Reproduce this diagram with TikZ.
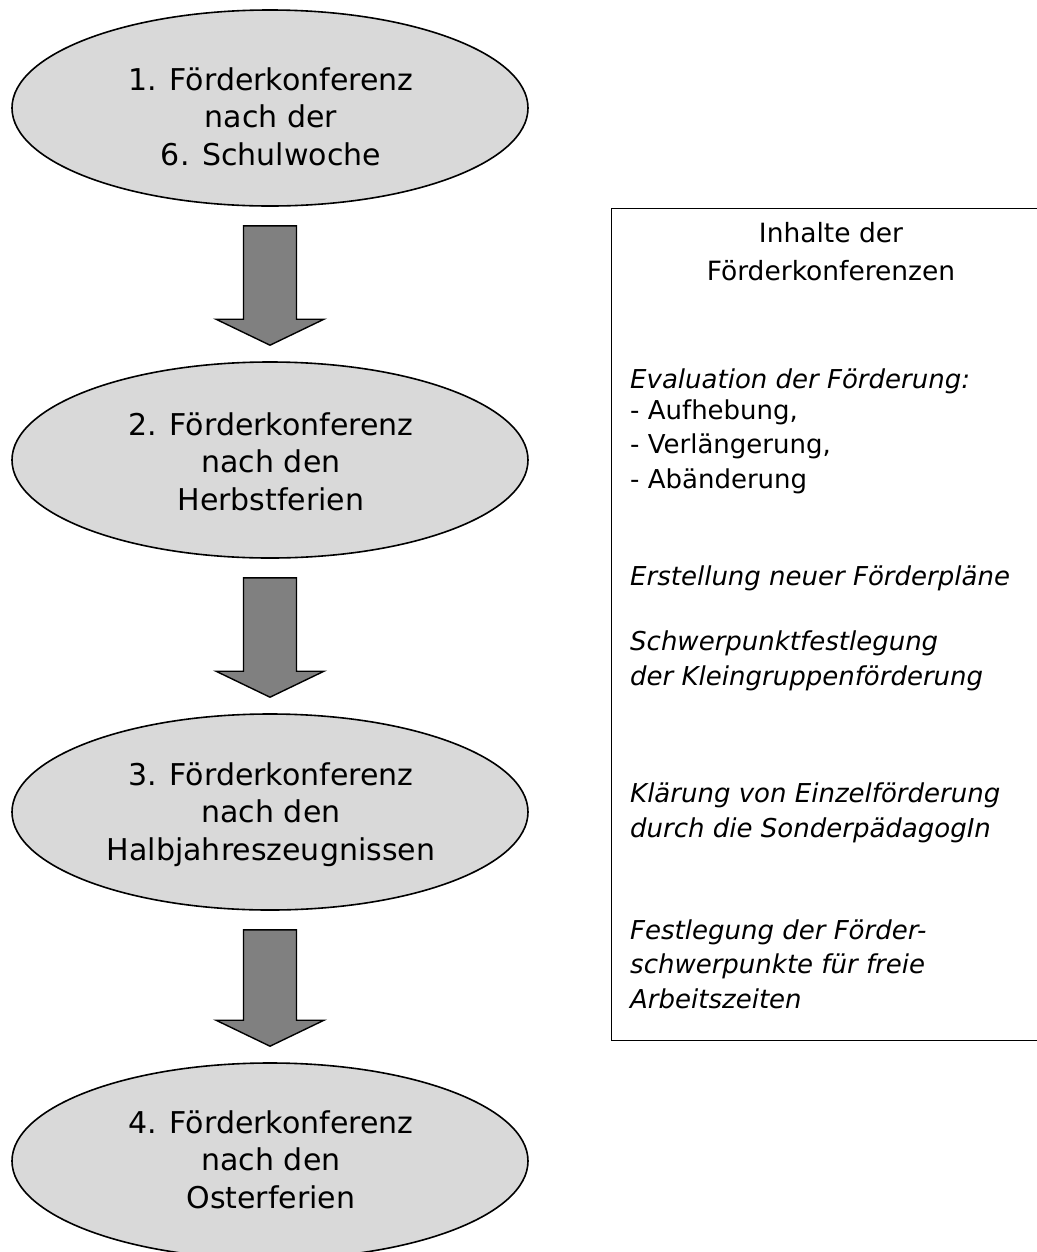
\documentclass[tikz,border=0pt]{standalone}
\usepackage{fontspec}
\setmainfont{DejaVu Sans}
\usetikzlibrary{shapes.geometric,calc}
\definecolor{ellfill}{RGB}{217,217,217}
\definecolor{arrfill}{RGB}{128,128,128}
\tikzset{
  conf/.style={ellipse, draw=black, line width=1.6bp, fill=ellfill, minimum width=516bp, minimum height=196bp, inner sep=0pt},
  conftext/.style={anchor=base, align=center, font=\fontsize{30bp}{37.5bp}\selectfont, inner sep=0pt},
  blockarrow/.style={draw=black, line width=1.4bp, fill=arrfill, line join=miter},
  infobox/.style={rectangle, draw=black, line width=1.4bp, anchor=north west, minimum width=440bp, minimum height=832bp, inner sep=0pt},
  boxtitle/.style={anchor=base, align=center, font=\fontsize{26.5bp}{38bp}\selectfont, inner sep=0pt},
  boxtext/.style={anchor=base west, align=left, font=\fontsize{26bp}{34.5bp}\selectfont\itshape, inner sep=0pt},
  boxlist/.style={anchor=base west, align=left, font=\fontsize{26bp}{34.5bp}\selectfont, inner sep=0pt}
}
\begin{document}
\begin{tikzpicture}[x=1bp, y=-1bp]
\useasboundingbox (0,0) rectangle (1037,1252);
\clip (0,0) rectangle (1037,1252);

% ellipses
\node[conf] (e1) at (270,108) {};
\node[conf] (e2) at (270,460) {};
\node[conf] (e3) at (270,812) {};
\node[conf] (e4) at (270,1161) {};

% anchor base = baseline of the last line
\node[conftext] (t1) at (271,165) {1. Förderkonferenz\\nach der\\6. Schulwoche};
\node[conftext] (t2) at (271,510) {2. Förderkonferenz\\nach den\\Herbstferien};
\node[conftext] (t3) at (271,860) {3. Förderkonferenz\\nach den\\Halbjahreszeugnissen};
\node[conftext] (t4) at (271,1208) {4. Förderkonferenz\\nach den\\Osterferien};

% block arrows between ellipses
\foreach \a/\b in {e1/e2, e2/e3, e3/e4} {
  \coordinate (top-\a) at ($(\a.south)+(0,19)$);
  \coordinate (tip-\a) at ($(\b.north)+(0,-16)$);
  \draw[blockarrow] ($(top-\a)+(-26.5,0)$) -- ($(top-\a)+(26.5,0)$)
     -- ($(tip-\a)+(26.5,-26)$) -- ($(tip-\a)+(54,-26)$) -- (tip-\a)
     -- ($(tip-\a)+(-54,-26)$) -- ($(tip-\a)+(-26.5,-26)$) -- cycle;
}

% info box
\node[infobox] (box) at (611,208) {};
\node[boxtitle] (title) at (831,280) {Inhalte der\\Förderkonferenzen};
\node[boxtext] (eval) at (630,388) {Evaluation der Förderung:};
\node[boxlist] (list) at (630,488) {- Aufhebung,\\- Verlängerung,\\- Abänderung};
\node[boxtext] (plan) at (630,585) {Erstellung neuer Förderpläne};
\node[boxtext] (schw) at (630,685) {Schwerpunktfestlegung\\der Kleingruppenförderung};
\node[boxtext] (klar) at (630,837) {Klärung von Einzelförderung\\durch die SonderpädagogIn};
\node[boxtext] (fest) at (630,1008) {Festlegung der Förder-\\schwerpunkte für freie\\Arbeitszeiten};
\end{tikzpicture}
\end{document}
